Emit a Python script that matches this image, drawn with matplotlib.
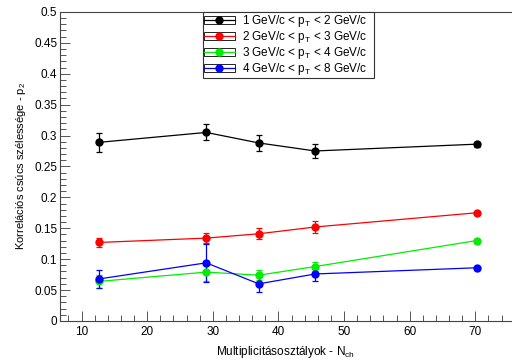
import matplotlib
matplotlib.use("Agg")
import matplotlib.pyplot as plt
from matplotlib.ticker import MultipleLocator
from matplotlib.patches import Patch
from matplotlib.legend_handler import HandlerTuple

plt.rcParams['font.family'] = ['Liberation Sans', 'DejaVu Sans']
plt.rcParams['mathtext.default'] = 'regular'

nch = [12.7, 29.0, 37.0, 45.6, 70.2]

p2_1_2 = [0.289, 0.305, 0.288, 0.275, 0.286]
err_1_2 = [0.015, 0.013, 0.013, 0.012, 0.004]
p2_2_3 = [0.127, 0.134, 0.141, 0.152, 0.175]
err_2_3 = [0.007, 0.008, 0.009, 0.009, 0.002]
p2_3_4 = [0.064, 0.079, 0.074, 0.088, 0.130]
err_3_4 = [0.010, 0.014, 0.008, 0.007, 0.003]
p2_4_8 = [0.068, 0.094, 0.060, 0.076, 0.086]
err_4_8 = [0.015, 0.031, 0.014, 0.012, 0.003]

labels = ['1 GeV/c < p$_T$ < 2 GeV/c',
          '2 GeV/c < p$_T$ < 3 GeV/c',
          '3 GeV/c < p$_T$ < 4 GeV/c',
          '4 GeV/c < p$_T$ < 8 GeV/c']
colors = ['#000000', '#ff0000', '#00ee00', '#0000ff']

fig = plt.figure(figsize=(5.12, 3.61), dpi=100)
ax = fig.add_axes([0.117, 0.111, 0.883, 0.856])

series = [(p2_1_2, err_1_2), (p2_2_3, err_2_3), (p2_3_4, err_3_4), (p2_4_8, err_4_8)]
handles = []
for (vals, errs), lab, c in zip(series, labels, colors):
    ax.errorbar(nch, vals, yerr=errs, color=c, marker='o', markersize=5,
                lw=0.9, elinewidth=0.9, capsize=2, capthick=0.9)
    box = Patch(facecolor='white', edgecolor='#222222', linewidth=0.7)
    h, = ax.plot([], [], color=c, marker='o', markersize=5, lw=0.9)
    handles.append((box, h))

ax.set_xlim(6.7, 75.6)
ax.set_ylim(0, 0.5)
ax.xaxis.set_major_locator(MultipleLocator(10))
ax.xaxis.set_minor_locator(MultipleLocator(2))
ax.yaxis.set_major_locator(MultipleLocator(0.05))
ax.yaxis.set_minor_locator(MultipleLocator(0.01))
ax.yaxis.set_major_formatter(matplotlib.ticker.FuncFormatter(lambda v, p: ('%.2f' % v).rstrip('0').rstrip('.')))
ax.tick_params(which='major', direction='in', length=7, width=0.7, color='#555555', labelsize=8.5, top=False, right=False)
ax.tick_params(which='minor', direction='in', length=4, width=0.7, color='#555555', top=False, right=False)
ax.tick_params(axis='x', pad=4)
ax.tick_params(axis='y', pad=2)
ax.spines['right'].set_visible(False)
for s in ['left', 'bottom', 'top']:
    ax.spines[s].set_color('#444444')
    ax.spines[s].set_linewidth(0.8)

ax.set_xlabel('Multiplicitásosztályok - N$_{ch}$', fontsize=8.5)
ax.set_ylabel('Korrelációs csúcs szélessége - p$_2$', fontsize=8)

leg = ax.legend(handles=handles, labels=labels, handler_map={tuple: HandlerTuple(ndivide=1)},
                loc='upper left', bbox_to_anchor=(0.316, 0.816, 0.379, 0.184), mode='expand',
                fontsize=8.5, frameon=True, fancybox=False, edgecolor='#333333', framealpha=1,
                borderaxespad=0, handlelength=2.6, labelspacing=0.0, borderpad=0.1, handletextpad=0.6)
leg.get_frame().set_linewidth(0.8)

fig.savefig('out.png', dpi=100)
